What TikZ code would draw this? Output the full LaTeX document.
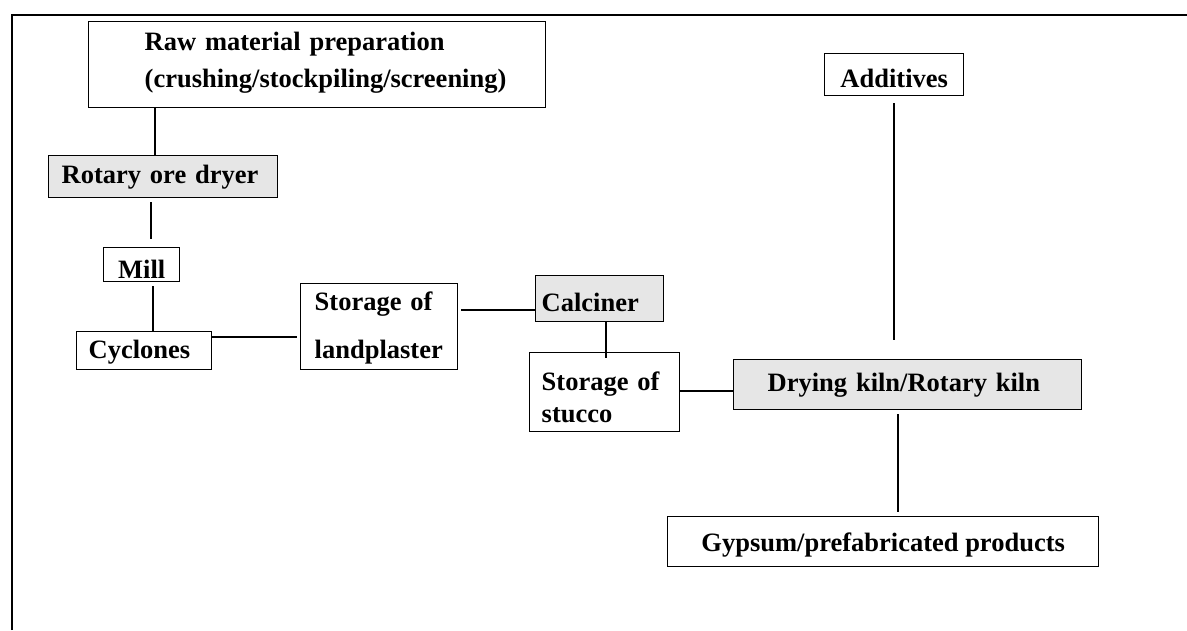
\documentclass[tikz,border=0pt]{standalone}
\usepackage{fontspec}
\setmainfont{Liberation Serif}
\newcommand{\boxline}[1]{\makebox[\linewidth][l]{#1}}
\definecolor{boxgray}{RGB}{230,230,230}
\begin{document}
\begin{tikzpicture}[x=1pt,y=-1pt,
  procbox/.style={draw=black, line width=1.4pt, fill=white, rectangle, anchor=north west, inner sep=0pt,
    font=\fontsize{26.5pt}{32pt}\selectfont\bfseries},
  shaded/.style={procbox, fill=boxgray},
  conn/.style={line width=2.2pt, line cap=butt},
  outerframe/.style={line width=2.8pt}]
\useasboundingbox (0,0) rectangle (1187,630);
\draw[outerframe] (12,630) -- (12,15) -- (1187,15);

\node[procbox, minimum width=457pt, minimum height=86pt, text width=345pt, align=left,
  text height=0pt, text depth=28pt] (raw) at (88,21)
  {\boxline{Raw material preparation}\\[5pt]\boxline{(crushing/stockpiling/screening)}};
\node[shaded, minimum width=229pt, minimum height=42pt, text width=203pt, align=left,
  text height=14pt, text depth=0pt] (dry) at (48,155) {Rotary ore dryer};
\node[procbox, minimum width=76pt, minimum height=34pt, align=center,
  text height=28pt, text depth=0pt] (mill) at (103,247) {Mill};
\node[procbox, minimum width=135pt, minimum height=38pt, text width=111pt, align=left,
  text height=16pt, text depth=0pt] (cyc) at (76,331) {Cyclones};
\node[procbox, minimum width=157pt, minimum height=86pt, text width=129pt, align=left,
  text height=0pt, text depth=32pt] (sland) at (300,283)
  {\boxline{Storage of}\\[16pt]\boxline{landplaster}};
\node[shaded, minimum width=128pt, minimum height=46pt, text width=116pt, align=left,
  text height=26pt, text depth=0pt] (calc) at (535,275) {Calciner};
\node[procbox, minimum width=150pt, minimum height=79pt, text width=126pt, align=left,
  text height=10pt, text depth=13pt] (sstu) at (529,352)
  {\boxline{Storage of}\\[0pt]\boxline{stucco}};
\node[procbox, minimum width=139pt, minimum height=42pt, align=center,
  text height=26pt, text depth=0pt] (add) at (824,53) {Additives};
\node[shaded, minimum width=348pt, minimum height=50pt, text width=280pt, align=left,
  text height=14pt, text depth=0pt] (kiln) at (733,359) {Drying kiln/Rotary kiln};
\node[procbox, minimum width=431pt, minimum height=50pt, align=center,
  text height=20pt, text depth=0pt] (gyp) at (667,516) {Gypsum/prefabricated products};

\draw[conn] ([xshift=67pt]raw.south west) -- ([xshift=67pt]raw.south west |- dry.north);
\draw[conn, shorten <=4pt, shorten >=8pt] ([xshift=103pt]dry.south west) -- ([xshift=103pt]dry.south west |- mill.north);
\draw[conn, shorten <=4pt] ([xshift=50pt]mill.south west) -- ([xshift=50pt]mill.south west |- cyc.north);
\draw[conn, shorten >=3pt] ([yshift=-6pt]cyc.north east) -- ([yshift=-6pt]cyc.north east -| sland.west);
\draw[conn, shorten <=3pt] ([yshift=-27pt]sland.north east) -- ([yshift=-27pt]sland.north east -| calc.west);
\draw[conn, shorten >=-6pt] ([xshift=71pt]calc.south west) -- ([xshift=71pt]calc.south west |- sstu.north);
\draw[conn] ([yshift=-39pt]sstu.north east) -- ([yshift=-39pt]sstu.north east -| kiln.west);
\draw[conn, shorten <=7pt, shorten >=19pt] ([xshift=70pt]add.south west) -- ([xshift=70pt]add.south west |- kiln.north);
\draw[conn, shorten <=4pt, shorten >=4pt] ([xshift=165pt]kiln.south west) -- ([xshift=165pt]kiln.south west |- gyp.north);
\end{tikzpicture}
\end{document}
